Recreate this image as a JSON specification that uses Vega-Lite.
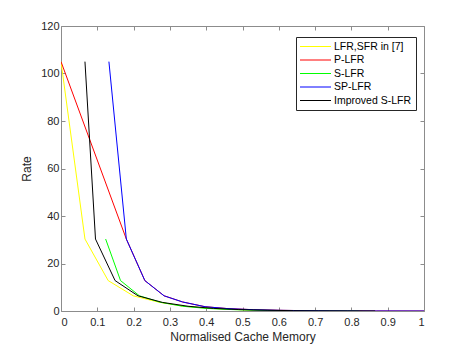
{
  "$schema": "https://vega.github.io/schema/vega-lite/v6.json",
  "width": 363,
  "height": 285,
  "autosize": {"type": "none"},
  "padding": {"left": 61, "top": 26, "right": 43, "bottom": 39},
  "background": "white",
  "config": {
    "font": "Liberation Sans",
    "view": {"stroke": null},
    "axis": {
      "grid": false,
      "domainColor": "#8c8c8c",
      "tickColor": "#8c8c8c",
      "labelColor": "#262626",
      "titleColor": "#262626",
      "labelFontSize": 11,
      "titleFontSize": 12,
      "titleFontWeight": "normal",
      "labelFont": "Liberation Sans",
      "titleFont": "Liberation Sans",
      "tickSize": -4
    }
  },
  "data": {
    "values": [
      {"s": "LFR,SFR in [7]", "x": 0, "y": 105},
      {"s": "LFR,SFR in [7]", "x": 0.066, "y": 30.3},
      {"s": "LFR,SFR in [7]", "x": 0.13, "y": 12.8},
      {"s": "LFR,SFR in [7]", "x": 0.199, "y": 6.4},
      {"s": "LFR,SFR in [7]", "x": 0.27, "y": 3.7},
      {"s": "LFR,SFR in [7]", "x": 0.34, "y": 2.0},
      {"s": "LFR,SFR in [7]", "x": 0.41, "y": 1.1},
      {"s": "LFR,SFR in [7]", "x": 0.48, "y": 0.6},
      {"s": "LFR,SFR in [7]", "x": 0.55, "y": 0.3},
      {"s": "LFR,SFR in [7]", "x": 0.62, "y": 0.15},
      {"s": "LFR,SFR in [7]", "x": 0.69, "y": 0.06},
      {"s": "LFR,SFR in [7]", "x": 0.76, "y": 0.02},
      {"s": "LFR,SFR in [7]", "x": 0.83, "y": 0},
      {"s": "P-LFR", "x": 0, "y": 105},
      {"s": "P-LFR", "x": 0.18, "y": 30.3},
      {"s": "P-LFR", "x": 0.231, "y": 12.8},
      {"s": "P-LFR", "x": 0.284, "y": 6.4},
      {"s": "P-LFR", "x": 0.335, "y": 3.8},
      {"s": "P-LFR", "x": 0.397, "y": 1.8},
      {"s": "P-LFR", "x": 0.46, "y": 1.0},
      {"s": "P-LFR", "x": 0.53, "y": 0.55},
      {"s": "P-LFR", "x": 0.6, "y": 0.3},
      {"s": "P-LFR", "x": 0.67, "y": 0.15},
      {"s": "P-LFR", "x": 0.74, "y": 0.06},
      {"s": "P-LFR", "x": 0.81, "y": 0.02},
      {"s": "P-LFR", "x": 0.87, "y": 0.01},
      {"s": "P-LFR", "x": 1.0, "y": 0},
      {"s": "S-LFR", "x": 0.123, "y": 30.3},
      {"s": "S-LFR", "x": 0.164, "y": 12.8},
      {"s": "S-LFR", "x": 0.216, "y": 6.4},
      {"s": "S-LFR", "x": 0.273, "y": 3.7},
      {"s": "S-LFR", "x": 0.335, "y": 2.0},
      {"s": "S-LFR", "x": 0.4, "y": 1.1},
      {"s": "S-LFR", "x": 0.47, "y": 0.6},
      {"s": "S-LFR", "x": 0.54, "y": 0.3},
      {"s": "S-LFR", "x": 0.61, "y": 0.15},
      {"s": "S-LFR", "x": 0.68, "y": 0.06},
      {"s": "S-LFR", "x": 0.75, "y": 0.02},
      {"s": "S-LFR", "x": 0.82, "y": 0},
      {"s": "SP-LFR", "x": 0.132, "y": 105},
      {"s": "SP-LFR", "x": 0.18, "y": 30.3},
      {"s": "SP-LFR", "x": 0.231, "y": 12.8},
      {"s": "SP-LFR", "x": 0.284, "y": 6.4},
      {"s": "SP-LFR", "x": 0.335, "y": 3.8},
      {"s": "SP-LFR", "x": 0.397, "y": 1.8},
      {"s": "SP-LFR", "x": 0.46, "y": 1.0},
      {"s": "SP-LFR", "x": 0.53, "y": 0.55},
      {"s": "SP-LFR", "x": 0.6, "y": 0.3},
      {"s": "SP-LFR", "x": 0.67, "y": 0.15},
      {"s": "SP-LFR", "x": 0.74, "y": 0.06},
      {"s": "SP-LFR", "x": 0.81, "y": 0.02},
      {"s": "SP-LFR", "x": 0.87, "y": 0.01},
      {"s": "SP-LFR", "x": 1.0, "y": 0},
      {"s": "Improved S-LFR", "x": 0.066, "y": 105},
      {"s": "Improved S-LFR", "x": 0.095, "y": 30.3},
      {"s": "Improved S-LFR", "x": 0.149, "y": 12.8},
      {"s": "Improved S-LFR", "x": 0.212, "y": 6.4},
      {"s": "Improved S-LFR", "x": 0.28, "y": 3.6},
      {"s": "Improved S-LFR", "x": 0.35, "y": 2.0},
      {"s": "Improved S-LFR", "x": 0.42, "y": 1.1},
      {"s": "Improved S-LFR", "x": 0.49, "y": 0.6},
      {"s": "Improved S-LFR", "x": 0.57, "y": 0.3},
      {"s": "Improved S-LFR", "x": 0.64, "y": 0.15},
      {"s": "Improved S-LFR", "x": 0.71, "y": 0.06},
      {"s": "Improved S-LFR", "x": 0.79, "y": 0.02},
      {"s": "Improved S-LFR", "x": 0.865, "y": 0}
    ]
  },
  "resolve": {"axis": {"x": "independent", "y": "independent"}},
  "layer": [
    {
      "mark": {"type": "line", "strokeWidth": 1, "clip": true},
      "encoding": {
        "x": {
          "field": "x", "type": "quantitative",
          "scale": {"domain": [0, 1], "nice": false, "zero": false},
          "axis": {"title": "Normalised Cache Memory", "values": [0,0.1,0.2,0.3,0.4,0.5,0.6,0.7,0.8,0.9,1], "format": "~g", "labelPadding": 9, "titlePadding": 4}
        },
        "y": {
          "field": "y", "type": "quantitative",
          "scale": {"domain": [0, 120], "nice": false},
          "axis": {"title": "Rate", "values": [0,20,40,60,80,100,120], "labelPadding": 6, "titlePadding": 7}
        },
        "color": {
          "field": "s", "type": "nominal",
          "scale": {
            "domain": ["LFR,SFR in [7]", "P-LFR", "S-LFR", "SP-LFR", "Improved S-LFR"],
            "range": ["#ffff00", "#ff0000", "#00ff00", "#0000ff", "#000000"]
          },
          "legend": {
            "title": null,
            "orient": "none",
            "legendX": 235,
            "legendY": 11,
            "symbolType": "M-3.1,0H3.1",
            "symbolSize": 100,
            "symbolStrokeWidth": 1,
            "symbolOffset": 10,
            "labelFontSize": 10.5,
            "labelColor": "#000000",
            "labelFont": "Liberation Sans",
            "rowPadding": 2.5,
            "labelOffset": 13,
            "padding": 4,
            "strokeColor": "#262626",
            "fillColor": "white",
            "labelLimit": 200
          }
        }
      }
    },
    {
      "mark": {"type": "line", "strokeOpacity": 0},
      "encoding": {
        "x": {
          "field": "x", "type": "quantitative",
          "scale": {"domain": [0, 1], "nice": false, "zero": false},
          "axis": {"orient": "top", "title": null, "labels": false, "values": [0,0.1,0.2,0.3,0.4,0.5,0.6,0.7,0.8,0.9,1]}
        },
        "y": {
          "field": "y", "type": "quantitative",
          "scale": {"domain": [0, 120], "nice": false},
          "axis": {"orient": "right", "title": null, "labels": false, "values": [0,20,40,60,80,100,120]}
        }
      }
    }
  ]
}
